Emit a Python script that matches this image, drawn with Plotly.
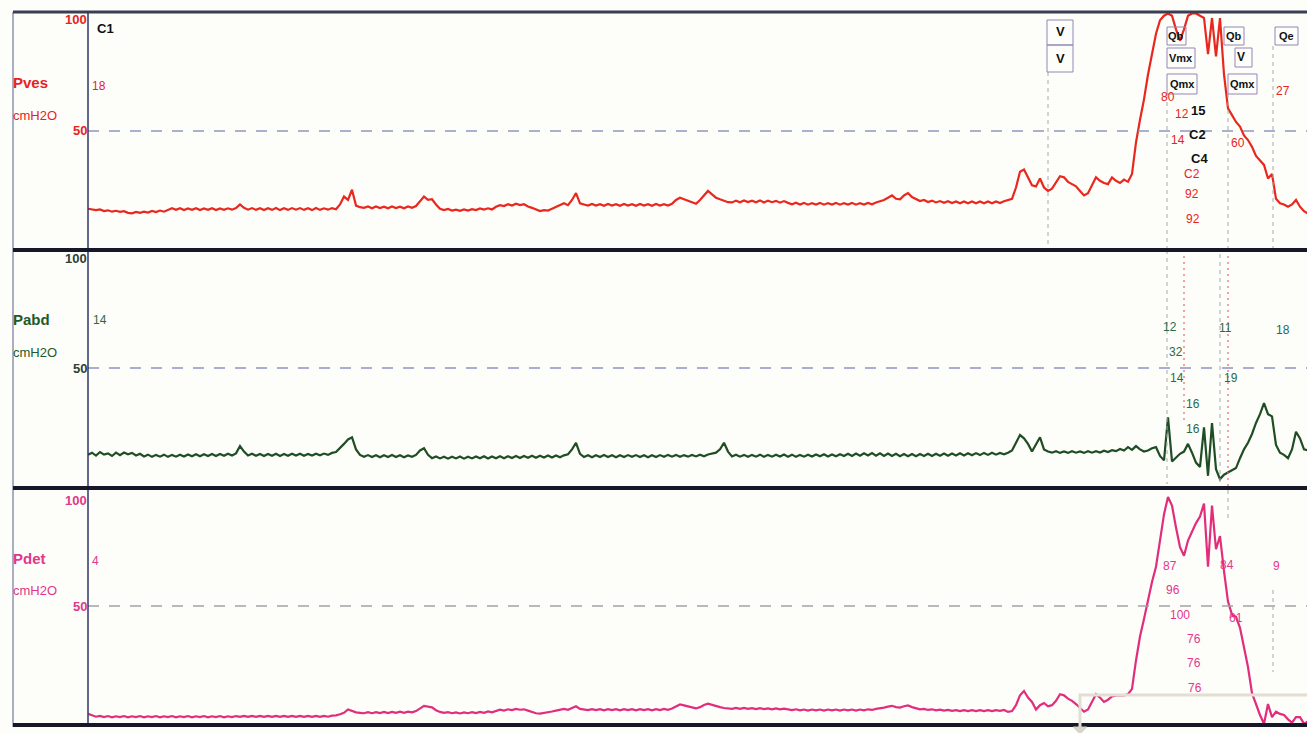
import plotly.graph_objects as go

W, H = 1307, 733
STEP = 4  # seconds between stored samples

# ---- pressure traces (cmH2O), one sample every STEP seconds ----
pves = [
    15.6, 15.4, 15.0, 15.3, 14.6, 14.9, 14.3, 14.7, 14.2, 14.5, 13.8,
    13.6, 14.2, 13.8, 14.3, 13.9, 14.6, 14.1, 14.8, 14.3,
    15.2, 15.8, 15.1, 15.8, 15.0, 15.7, 15.1, 15.8, 15.0, 15.7, 15.1, 15.8, 15.0, 15.7, 15.1, 15.8, 15.2, 15.9,
    17.5, 16.0,
    15.2, 15.9, 15.1, 15.8, 15.0, 15.8, 15.1, 15.9, 15.0, 15.8, 15.1, 15.9, 15.2, 15.9, 15.1, 15.8, 15.0, 15.9, 15.1, 15.8, 15.2, 15.9, 15.4,
    17.5, 21.0, 19.5, 24.0, 17.0, 16.3,
    16.0, 16.6, 15.8, 16.6, 15.9, 16.5, 15.8, 16.6, 15.9, 16.5, 15.8, 16.6, 16.0, 16.8,
    19.0, 21.0, 19.5, 19.8, 17.5,
    15.6, 15.0, 15.5, 14.8, 15.2, 14.7, 15.3, 14.8, 15.4, 15.0, 15.7, 15.2, 15.8, 15.3,
    16.5, 17.2, 16.8, 17.6, 17.0, 17.8, 17.2, 17.6, 16.6,
    16.0, 15.2, 14.6, 15.0, 14.8, 15.6,
    16.3, 17.0, 18.0, 17.2, 19.5, 22.5, 18.0, 17.5,
    17.0, 17.7, 17.0, 17.6, 16.9, 17.7, 17.0, 17.6, 16.9, 17.7, 17.0, 17.6, 16.9, 17.7, 17.0, 17.6, 16.9, 17.7, 17.0, 17.6, 17.0, 17.8,
    19.5, 20.5, 19.8, 19.0, 18.2, 17.8, 19.5, 21.5, 23.5, 22.0, 20.5, 19.8, 19.0, 18.5,
    18.4, 19.2, 18.5, 19.3, 18.6, 19.2, 18.5, 19.3, 18.4, 19.2, 18.5, 19.1, 18.3, 19.0, 18.2,
    17.6, 18.3, 17.5, 18.2, 17.4, 18.1, 17.5, 18.2, 17.4, 18.1, 17.5, 18.2, 17.4, 18.1, 17.5, 18.2, 17.4, 18.1, 17.5, 18.2, 17.6, 18.4, 18.8,
    19.5, 20.5, 21.5, 20.0, 19.8, 21.5, 22.5, 20.8,
    19.8, 19.0, 19.5, 18.6, 19.2, 18.4, 19.0, 18.2, 18.9, 18.1, 18.8, 18.0, 18.8, 18.0, 18.8, 18.0, 18.8, 18.0, 18.8, 18.0, 18.8, 18.1, 18.9,
    19.5, 20.0, 25.0, 32.0, 33.0, 29.5, 26.0, 25.5, 29.0, 25.0, 23.5, 24.5, 27.0, 30.0, 29.5, 27.5,
    26.5, 25.5, 23.5, 21.5, 22.5, 26.0, 29.5, 28.0, 27.0, 26.5, 29.5, 28.0, 27.0, 28.5, 27.5, 31.0,
    45.0, 55.0, 64.0, 75.0, 84.5, 93.0, 99.0, 101.0, 102.0, 101.0,
    95.0, 90.0, 95.0, 101.0, 102.0, 102.0, 101.0, 100.0, 84.0, 100.0,
    83.0, 100.0, 75.0, 60.0, 57.0, 54.0, 52.0, 48.0, 46.0, 43.0,
    39.0, 37.0, 35.0, 29.0, 31.0, 20.0, 18.0, 17.5, 16.5, 17.5,
    19.5, 16.5, 14.5, 13.5,
]

pabd = [
    10.5, 11.5, 10.2, 11.8, 10.6, 11.2, 10.0, 11.5, 10.4, 11.6, 10.8, 11.4, 10.2, 11.0,
    9.8, 10.6, 9.6, 10.5, 9.7, 10.6, 9.6, 10.5, 9.7, 10.6, 9.8, 10.7, 9.9, 10.8, 9.9, 10.8, 10.0, 10.9, 10.0, 10.9, 10.1, 11.0, 10.2, 11.2,
    14.5, 12.0,
    10.2, 11.0, 10.1, 10.9, 10.0, 10.9, 10.1, 11.0, 10.0, 10.9, 10.1, 11.0, 10.2, 11.0, 10.1, 10.9, 10.2, 11.0, 10.3, 11.1, 10.5, 11.4, 11.8,
    13.5, 15.5, 17.5, 18.5, 13.0, 10.5,
    9.6, 10.4, 9.5, 10.3, 9.4, 10.3, 9.5, 10.4, 9.5, 10.3, 9.4, 10.2, 9.6, 10.5,
    12.5, 13.5, 10.5,
    9.0, 9.8, 8.9, 9.7, 8.8, 9.7, 8.9, 9.8, 8.8, 9.7, 8.9, 9.8, 9.0, 9.9, 8.9, 9.8, 9.0, 9.9,
    9.0, 9.9, 9.1, 10.0, 9.1, 10.0, 9.2, 10.1, 9.2, 10.1, 9.3, 10.2, 9.3, 10.2, 9.4, 10.3, 10.8,
    13.0, 16.0, 11.0,
    9.5, 10.3, 9.4, 10.3, 9.5, 10.4, 9.5, 10.3, 9.4, 10.3, 9.5, 10.4, 9.6, 10.4, 9.5, 10.3, 9.4,
    10.3, 9.5, 10.4, 9.6, 10.5, 9.7, 10.5, 9.6, 10.4, 9.7, 10.5, 9.8, 10.6, 9.9, 10.7, 11.0,
    11.5, 13.0, 16.0, 12.0,
    9.8, 10.6, 9.7, 10.5, 9.6, 10.5, 9.7, 10.6, 9.6, 10.5,
    9.7, 10.6, 9.8, 10.7, 9.7, 10.6, 9.6, 10.5, 9.7, 10.6,
    9.8, 10.7, 9.9, 10.8, 9.8, 10.7, 9.9, 10.8, 10.0, 11.0,
    10.0, 11.1, 10.1, 11.2, 10.2, 11.3, 10.1, 11.2, 10.0, 11.1,
    10.0, 11.0, 9.9, 10.9, 9.9, 10.9, 9.9, 10.9, 10.0, 11.0,
    10.0, 11.0, 10.1, 11.1, 10.1, 11.1, 10.2, 11.2, 10.2, 11.2,
    10.3, 11.3, 10.4, 11.4, 10.5, 11.5, 10.6, 11.4, 10.8,
    11.5, 12.5, 16.0, 19.5, 18.0, 15.5, 12.0, 15.0, 18.5, 13.0, 12.0,
    11.5, 12.2, 11.4, 12.1, 11.4, 12.2, 11.5, 12.1, 11.4, 12.2, 11.5, 12.2, 11.6, 12.4, 11.8, 12.6, 12.2, 13.2,
    12.5, 14.0, 12.8, 14.5, 13.0, 12.0, 12.5, 13.5, 14.0, 10.0,
    8.0, 27.5, 7.5, 9.5, 11.0, 12.0, 15.5, 11.5, 7.0, 5.0,
    23.0, 1.0, 25.0, 4.0, -0.5, 1.5, 2.5, 3.5, 4.5, 9.0,
    13.0, 16.0, 20.0, 25.0, 29.0, 34.0, 29.0, 28.0, 15.0, 11.5,
    10.5, 9.0, 13.0, 21.0, 18.0, 13.0, 12.5,
]

pdet = [
    0.5, -0.3, -0.8, -0.4, -1.0, -0.5, -1.1, -0.6, -1.0, -0.5,
    -1.1, -0.6, -1.0, -0.5, -1.1, -0.6, -1.0, -0.5, -1.1, -0.6,
    -1.0, -0.5, -1.1, -0.6, -1.0, -0.5, -1.1, -0.6, -1.0, -0.5,
    -1.1, -0.6, -1.0, -0.5, -1.1, -0.6, -1.0, -0.5, -0.9, -0.4,
    -0.9, -0.4, -0.9, -0.4, -0.9, -0.4, -0.9, -0.4, -0.9, -0.4,
    -0.9, -0.4, -0.9, -0.4, -0.9, -0.4, -0.9, -0.4, -0.9, -0.4,
    -0.8, -0.3, -0.2,
    0.3, 1.0, 2.5, 1.8, 1.2, 1.0,
    0.8, 1.3, 0.8, 1.3, 0.9, 1.4, 0.9, 1.4, 1.0, 1.5, 1.0, 1.5, 1.2, 1.8,
    3.0, 4.2, 3.8, 3.5, 2.2,
    1.4, 1.0, 1.3, 0.8, 1.2, 0.7, 1.2, 0.8, 1.3, 0.9, 1.4, 1.0, 1.6, 1.2,
    1.8, 2.4, 2.0, 2.6, 2.2, 2.8, 2.4, 2.6, 2.0,
    1.4, 0.8, 0.6, 0.9, 1.0, 1.6,
    2.0, 2.4, 2.8, 2.4, 3.2, 4.0, 2.8, 2.5,
    2.2, 2.7, 2.2, 2.7, 2.1, 2.7, 2.2, 2.7, 2.1, 2.7, 2.2, 2.7, 2.1, 2.7, 2.2, 2.7, 2.1, 2.7, 2.2, 2.8, 2.4, 3.0,
    4.0, 4.8, 4.4, 4.0, 3.4, 3.0,
    3.6, 4.6, 5.2, 4.6, 4.0, 3.6, 3.2, 3.0,
    2.8, 3.2, 2.8, 3.2, 2.8, 3.1, 2.7, 3.1, 2.7, 3.0, 2.6, 3.0, 2.6, 2.9, 2.5,
    2.2, 2.6, 2.1, 2.5, 2.0, 2.5, 2.1, 2.5, 2.0, 2.5, 2.1, 2.5, 2.0, 2.5, 2.1, 2.5, 2.0, 2.5, 2.1, 2.6, 2.3, 2.8, 3.0,
    3.4, 3.8, 4.2, 3.6, 3.4, 4.0, 4.4, 3.6,
    3.0, 2.6, 2.8, 2.3, 2.6, 2.1, 2.4, 2.0, 2.3, 1.9, 2.2, 1.8, 2.2, 1.8, 2.2, 1.8, 2.2, 1.8, 2.2, 1.8, 2.2, 1.9, 2.3,
    1.4, 1.8, 4.5, 9.0, 11.0, 8.0, 6.0, 2.5, 4.5, 5.5,
    4.0, 4.5, 6.5, 9.5, 9.0, 7.5, 6.5, 5.0, 3.0, 1.5,
    2.5, 6.0, 9.5, 8.0, 6.0, 7.0, 8.5, 9.0, 9.0, 9.0,
    9.5, 12.0,
    25.0, 36.0, 44.0, 53.0, 61.0, 68.0, 80.0, 92.0, 100.0, 96.0,
    86.0, 77.0, 73.0, 80.0, 84.0, 88.0, 91.0, 97.0, 68.0, 96.0,
    76.0, 82.0, 66.0, 52.0, 46.0, 45.0, 40.0, 31.0, 22.0, 10.0,
    5.0, 0.0, -4.0, 5.0, -1.0, 1.5, 0.5, 0.0, -2.0, -3.5,
    -1.0, -1.0, -4.0, -3.0,
]

# event markers (seconds): voids, flow start, max flow, flow end
event_t = [960, 1079, 1096, 1132, 1140, 1185]

# channel names, units and scale labels
channels = ["Pves", "Pabd", "Pdet"]
units = ["cmH2O", "cmH2O", "cmH2O"]
scale_ticks = ["100", "50"]
start_values = ["18", "14", "4"]

# readouts printed beside the markers, per channel
pves_marks = [("80", 1080), ("12", 1094), ("14", 1090), ("C2", 1104), ("92", 1104), ("92", 1105),
              ("60", 1150), ("27", 1195)]
pabd_marks = [("12", 1082), ("32", 1088), ("14", 1089), ("16", 1105), ("16", 1105),
              ("11", 1137), ("19", 1143), ("18", 1195)]
pdet_marks = [("87", 1082), ("96", 1085), ("100", 1092), ("76", 1106), ("76", 1106), ("76", 1107),
              ("84", 1139), ("61", 1148), ("9", 1188)]
event_boxes = [("V", 972), ("Qb", 1088), ("Vmx", 1093), ("Qmx", 1094), ("Qb", 1146),
               ("V", 1153), ("Qmx", 1154), ("Qe", 1198)]
cursor_labels = [("C1", 17), ("15", 1110), ("C2", 1109), ("C4", 1111)]

RED = "#e8281e"
GREEN = "#1f4d24"
PINK = "#e22d7c"
RED_TXT = "#e8231f"
GREEN_TXT = "#2b6a44"
PINK_TXT = "#e2388a"
FONT = "Liberation Sans Narrow, Arial Narrow, Liberation Sans, Arial, sans-serif"


def py(p):
    """pixel row -> paper y"""
    return 1 - p / H


def pxx(p):
    """pixel column -> paper x"""
    return p / W


fig = go.Figure()
series = [(pves, RED, "x", "y"), (pabd, GREEN, "x2", "y2"), (pdet, PINK, "x3", "y3")]
for vals, col, xa, ya in series:
    fig.add_trace(go.Scatter(
        x=[i * STEP for i in range(len(vals))], y=vals, mode="lines",
        line=dict(color=col, width=2.2), xaxis=xa, yaxis=ya,
        hoverinfo="skip", showlegend=False,
    ))

xdom = [88 / W, 1]
ax = dict(visible=False, range=[0, 1219], domain=xdom, fixedrange=True)
panels = [(12, 250, [-2.65, 102.65]), (250, 488, [-4.55, 103.6]), (488, 725, [-4.6, 104.1])]
layout_axes = {}
for k, (top, bot, rng) in enumerate(panels):
    sfx = "" if k == 0 else str(k + 1)
    layout_axes["xaxis" + sfx] = dict(ax, anchor="y" + sfx)
    layout_axes["yaxis" + sfx] = dict(visible=False, range=rng, domain=[py(bot), py(top)],
                                      fixedrange=True)

shapes = []
# dashed 50 cmH2O reference in every channel
grid_cols = ["#8e98c0", "#8d93c4", "#a3a3a8"]
for k, col in enumerate(grid_cols):
    sfx = "" if k == 0 else str(k + 1)
    shapes.append(dict(type="line", xref="x" + sfx, yref="y" + sfx, x0=0, x1=1219, y0=50, y1=50,
                       line=dict(color=col, width=1.6, dash="11px,10px")))

# marker lines
gray_dash = dict(color="#a9a9ad", width=1, dash="4px,4px")
red_dot = dict(color="#e46a6a", width=1.2, dash="2px,4px")
vlines = [
    (event_t[0], 72, 250, gray_dash),
    (event_t[1], 94, 250, gray_dash), (event_t[1], 250, 484, gray_dash),
    (event_t[2], 256, 420, red_dot),
    (event_t[3], 254, 484, gray_dash),
    (event_t[4], 94, 250, gray_dash), (event_t[4], 250, 488, red_dot), (event_t[4], 490, 520, gray_dash),
    (event_t[5], 46, 250, gray_dash), (event_t[5], 590, 672, gray_dash),
]
for t, y0, y1, ln in vlines:
    shapes.append(dict(type="line", xref="x", yref="paper", x0=t, x1=t, y0=py(y0), y1=py(y1), line=ln))

# marker label boxes
box_line = dict(color="#9386b8", width=1)
for x0, y0, x1, y1 in [(1047, 20, 1073, 45), (1047, 45, 1073, 72),
                       (1167, 27, 1186, 45), (1167, 48, 1195, 68), (1167, 74, 1197, 94),
                       (1224, 27, 1244, 45), (1235, 48, 1252, 67), (1228, 74, 1257, 94),
                       (1275, 27, 1298, 45)]:
    shapes.append(dict(type="rect", xref="paper", yref="paper", x0=pxx(x0), x1=pxx(x1),
                       y0=py(y1), y1=py(y0), line=box_line))

# frame: outer left edge, value axis, channel separators
shapes.append(dict(type="line", xref="paper", yref="paper", x0=pxx(13), x1=pxx(13), y0=py(12), y1=py(727),
                   line=dict(color="#8d93ad", width=1.5)))
shapes.append(dict(type="line", xref="paper", yref="paper", x0=pxx(88), x1=pxx(88), y0=py(12), y1=py(727),
                   line=dict(color="#2f3566", width=1.5)))
shapes.append(dict(type="line", xref="paper", yref="paper", x0=pxx(13), x1=1, y0=py(12), y1=py(12),
                   line=dict(color="#3b3e52", width=3)))
for yy in (250, 488, 725):
    shapes.append(dict(type="line", xref="paper", yref="paper", x0=pxx(13), x1=1, y0=py(yy), y1=py(yy),
                       line=dict(color="#16182a", width=4)))

# overlay panel in the lower right corner
shapes.append(dict(type="rect", xref="paper", yref="paper", x0=pxx(1080), x1=pxx(1312),
                   y0=py(745), y1=py(695), line=dict(color="#e2ded3", width=3)))
shapes.append(dict(type="path", xref="paper", yref="paper",
                   path=f"M {pxx(1073)},{py(727)} L {pxx(1087)},{py(727)} L {pxx(1080)},{py(734)} Z",
                   fillcolor="#d9d5cb", line=dict(color="#d9d5cb", width=1)))

ann = []


def text(s, x, y, color, size=12, bold=False, xanchor="center", xref="paper"):
    xv = pxx(x) if xref == "paper" else x
    ann.append(dict(text=f"<b>{s}</b>" if bold else s, x=xv, y=py(y), xref=xref, yref="paper",
                    xanchor=xanchor, yanchor="middle", showarrow=False,
                    font=dict(family=FONT, size=size, color=color)))


# channel labels and scale ticks
lab_rows = [(82, 115, 20, 130), (320, 352, 258, 368), (558, 590, 500, 606)]
name_cols = [RED_TXT, "#1d5a2b", PINK_TXT]
tick_cols = [RED_TXT, "#2f4034", PINK_TXT]
for k in range(3):
    yn, yu, y100, y50 = lab_rows[k]
    text(channels[k], 11, yn, name_cols[k], 15, True, "left")
    text(units[k], 11, yu, name_cols[k], 13, False, "left")
    text(scale_ticks[0], 89, y100, tick_cols[k], 13, True, "right")
    text(scale_ticks[1], 89, y50, tick_cols[k], 13, True, "right")

# values at the start of the trace
text(start_values[0], 11, 86, RED_TXT, 12, False, "center", "x")
text(start_values[1], 12, 320, GREEN_TXT, 12, False, "center", "x")
text(start_values[2], 7, 561, PINK_TXT, 12, False, "center", "x")

# cursors
for (s, t), y in zip(cursor_labels, [29, 110, 134, 158]):
    text(s, t, y, "#111111", 13, True, "center", "x")

# marker boxes text
for (s, t), y, sz in zip(event_boxes, [32, 36, 58, 84, 36, 57, 84, 36], [13, 11, 11, 11, 11, 12, 11, 11]):
    text(s, t, y, "#111111", sz, True, "center", "x")
text(event_boxes[0][0], event_boxes[0][1], 59, "#111111", 13, True, "center", "x")

for (s, t), y in zip(pves_marks, [97, 114, 140, 174, 194, 219, 143, 91]):
    text(s, t, y, RED_TXT, 12, False, "center", "x")
for (s, t), y in zip(pabd_marks, [327, 352, 378, 404, 429, 328, 378, 330]):
    text(s, t, y, GREEN_TXT, 12, False, "center", "x")
for (s, t), y in zip(pdet_marks, [566, 590, 615, 639, 663, 688, 565, 618, 566]):
    text(s, t, y, PINK_TXT, 12, False, "center", "x")

fig.update_layout(
    width=W, height=H, margin=dict(l=0, r=0, t=0, b=0),
    paper_bgcolor="#fdfdf9", plot_bgcolor="#fdfdf9",
    shapes=shapes, annotations=ann, showlegend=False,
    **layout_axes,
)

fig.write_html("out.html", config={"displayModeBar": False})
